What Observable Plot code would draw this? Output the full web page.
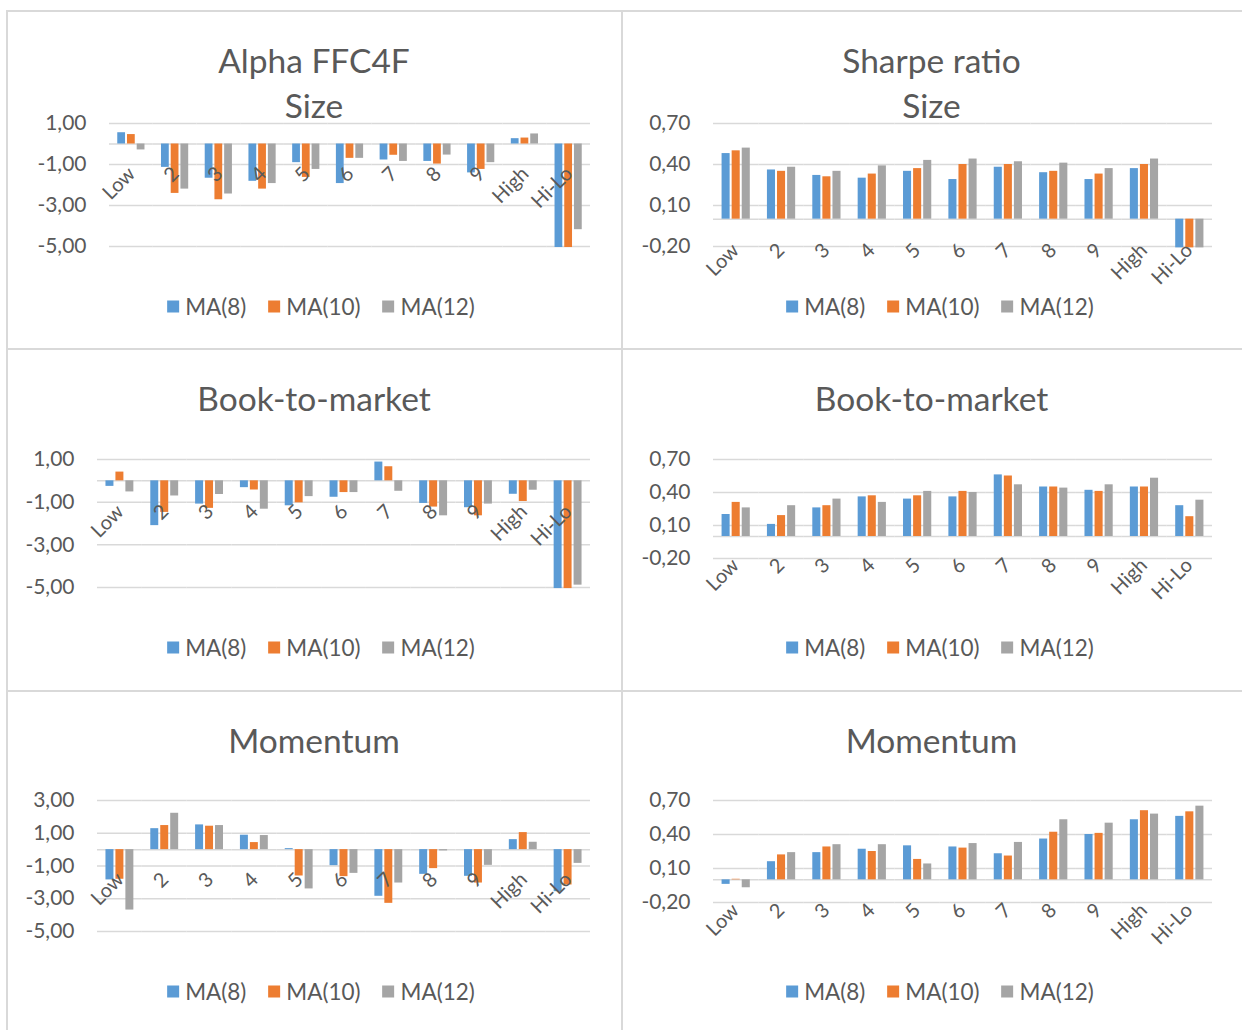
<!DOCTYPE html>
<html><head><meta charset="utf-8">
<script src="https://cdn.jsdelivr.net/npm/d3@7"></script>
<script src="https://cdn.jsdelivr.net/npm/@observablehq/plot@0.6"></script>
<style>
body{margin:0;background:#fff;font-family:Lato,"Open Sans",sans-serif;}
#page{position:relative;width:1242px;height:1030px;overflow:hidden;background:#fff;}
.box{position:absolute;box-sizing:border-box;border-top:2px solid #d9d9d9;border-left:2px solid #d9d9d9;}
.title{position:absolute;transform:translate(-50%,-50%);white-space:nowrap;color:#595959;font-size:33.5px;text-align:center;}
.legend{position:absolute;transform:translate(-50%,-50%);display:flex;align-items:center;color:#595959;font-size:22.5px;white-space:nowrap;}
.legend .item{display:flex;align-items:center;margin:0 11px;}
.legend .sw{width:12px;height:12px;margin-right:6px;}
svg.chart{position:absolute;overflow:visible;}
</style></head>
<body><div id="page"></div>
<script>
const categories = ["Low","2","3","4","5","6","7","8","9","High","Hi-Lo"];
const series = ["MA(8)","MA(10)","MA(12)"];
const colors = ["#5B9BD5","#ED7D31","#A5A5A5"];

const alphaSize8  = [0.55,-1.14,-1.67,-1.82,-0.91,-1.93,-0.78,-0.85,-1.41,0.26,-5.05];
const alphaSize10 = [0.46,-2.41,-2.72,-2.20,-1.63,-0.70,-0.55,-0.98,-1.24,0.29,-5.05];
const alphaSize12 = [-0.29,-2.20,-2.44,-1.93,-1.24,-0.70,-0.85,-0.54,-0.91,0.49,-4.18];

const sharpeSize8  = [0.48,0.36,0.32,0.30,0.35,0.29,0.38,0.34,0.29,0.37,-0.21];
const sharpeSize10 = [0.50,0.35,0.31,0.33,0.37,0.40,0.40,0.35,0.33,0.40,-0.21];
const sharpeSize12 = [0.52,0.38,0.35,0.39,0.43,0.44,0.42,0.41,0.37,0.44,-0.21];

const alphaBM8  = [-0.26,-2.10,-1.09,-0.32,-1.17,-0.77,0.88,-1.06,-1.26,-0.63,-5.05];
const alphaBM10 = [0.41,-1.48,-1.29,-0.43,-1.03,-0.55,0.66,-1.23,-1.64,-0.97,-5.05];
const alphaBM12 = [-0.52,-0.71,-0.64,-1.33,-0.74,-0.55,-0.49,-1.64,-1.09,-0.44,-4.89];

const sharpeBM8  = [0.20,0.11,0.26,0.36,0.34,0.36,0.56,0.45,0.42,0.45,0.28];
const sharpeBM10 = [0.31,0.19,0.28,0.37,0.37,0.41,0.55,0.45,0.41,0.45,0.18];
const sharpeBM12 = [0.26,0.28,0.34,0.31,0.41,0.40,0.47,0.44,0.47,0.53,0.33];

const alphaMom8  = [-1.85,1.28,1.51,0.88,0.06,-0.98,-2.85,-1.51,-1.63,0.61,-2.57];
const alphaMom10 = [-1.81,1.47,1.43,0.43,-1.61,-1.65,-3.28,-1.16,-2.04,1.04,-2.16];
const alphaMom12 = [-3.69,2.22,1.47,0.86,-2.40,-1.45,-2.04,-0.08,-0.96,0.45,-0.84];

const sharpeMom8  = [-0.04,0.16,0.24,0.27,0.30,0.29,0.23,0.36,0.40,0.53,0.56];
const sharpeMom10 = [0.005,0.22,0.29,0.25,0.18,0.28,0.21,0.42,0.41,0.61,0.60];
const sharpeMom12 = [-0.07,0.24,0.31,0.31,0.14,0.32,0.33,0.53,0.50,0.58,0.65];

const alphaTicks1 = [1,-1,-3,-5];
const alphaTicks3 = [3,1,-1,-3,-5];
const sharpeTicks = [0.7,0.4,0.1,-0.2];

const panels = [
  {title:["Alpha FFC4F","Size"], titleY:[60,105], values:[alphaSize8,alphaSize10,alphaSize12], ticks:alphaTicks1, domain:[-5,1],
   box:{x:6,y:10,w:616,h:338}, plot:{l:109,r:590,t:123,b:246}, labels:"zero", ldy:21, legendY:306},
  {title:["Sharpe ratio","Size"], titleY:[60,105], values:[sharpeSize8,sharpeSize10,sharpeSize12], ticks:sharpeTicks, domain:[-0.2,0.7],
   box:{x:621,y:10,w:621,h:338}, plot:{l:713,r:1212,t:123,b:246}, labels:"bottom", ldy:-5, legendY:306},
  {title:["Book-to-market"], titleY:[398], values:[alphaBM8,alphaBM10,alphaBM12], ticks:alphaTicks1, domain:[-5,1],
   box:{x:6,y:348,w:616,h:342}, plot:{l:97,r:590,t:459,b:587}, labels:"zero", ldy:22, legendY:647},
  {title:["Book-to-market"], titleY:[398], values:[sharpeBM8,sharpeBM10,sharpeBM12], ticks:sharpeTicks, domain:[-0.2,0.7],
   box:{x:621,y:348,w:621,h:342}, plot:{l:713,r:1212,t:459,b:558}, labels:"bottom", ldy:-2, legendY:647},
  {title:["Momentum"], titleY:[740], values:[alphaMom8,alphaMom10,alphaMom12], ticks:alphaTicks3, domain:[-5,3],
   box:{x:6,y:690,w:616,h:340}, plot:{l:97,r:590,t:800,b:931}, labels:"zero", ldy:21, legendY:991},
  {title:["Momentum"], titleY:[740], values:[sharpeMom8,sharpeMom10,sharpeMom12], ticks:sharpeTicks, domain:[-0.2,0.7],
   box:{x:621,y:690,w:621,h:340}, plot:{l:713,r:1212,t:800,b:902}, labels:"bottom", ldy:-1, legendY:991}
];

const page = document.getElementById("page");
const fmt = d => d.toFixed(2).replace(".", ",");

for (const p of panels) {
  const box = document.createElement("div");
  box.className = "box";
  Object.assign(box.style, {left:p.box.x+"px", top:p.box.y+"px", width:(p.box.w+2)+"px", height:(p.box.h+2)+"px"});
  page.appendChild(box);

  const data = [];
  categories.forEach((c, i) => series.forEach((s, j) => data.push({cat:c, series:s, value:p.values[j][i]})));

  const labelMark = p.labels === "zero"
    ? Plot.text(categories, {fx:d=>d, y:0, text:d=>d, rotate:-45, textAnchor:"end", lineAnchor:"top", dx:-5, dy:p.ldy, fontSize:20, fill:"#595959"})
    : Plot.text(categories, {fx:d=>d, frameAnchor:"bottom", text:d=>d, rotate:-45, textAnchor:"end", lineAnchor:"top", dx:-6, dy:p.ldy, fontSize:20, fill:"#595959"});

  const chart = Plot.plot({
    width:p.box.w, height:p.box.h,
    marginLeft:p.plot.l - p.box.x, marginRight:p.box.x + p.box.w - p.plot.r,
    marginTop:p.plot.t - p.box.y, marginBottom:p.box.y + p.box.h - p.plot.b,
    fx:{domain:categories, padding:0, round:false, axis:null},
    x:{domain:series, paddingInner:0.2, paddingOuter:0.85, round:false, axis:null},
    y:{domain:p.domain},
    color:{domain:series, range:colors},
    style:{fontFamily:"Lato, 'Open Sans', sans-serif", color:"#595959", background:"transparent", overflow:"visible"},
    marks:[
      Plot.ruleY(p.ticks, {stroke:"#d9d9d9", strokeWidth:1.5}),
      Plot.ruleY([0], {stroke:"#d9d9d9", strokeWidth:1.5}),
      Plot.barY(data, {fx:"cat", x:"series", y:"value", fill:"series"}),
      Plot.axisY({ticks:p.ticks, tickFormat:fmt, tickSize:0, tickPadding:23, fontSize:21, fill:"#595959", label:null}),
      labelMark
    ]
  });
  chart.classList.add("chart");
  chart.style.left = p.box.x + "px";
  chart.style.top = p.box.y + "px";
  page.appendChild(chart);

  const cx = p.box.x + p.box.w / 2;
  p.title.forEach((t, i) => {
    const el = document.createElement("div");
    el.className = "title";
    el.textContent = t;
    el.style.left = cx + "px";
    el.style.top = p.titleY[i] + "px";
    page.appendChild(el);
  });

  const lg = document.createElement("div");
  lg.className = "legend";
  lg.style.left = (p.box.x < 300 ? 321 : 940) + "px";
  lg.style.top = p.legendY + "px";
  series.forEach((s, j) => {
    const it = document.createElement("div");
    it.className = "item";
    const sw = document.createElement("div");
    sw.className = "sw";
    sw.style.background = colors[j];
    const tx = document.createElement("span");
    tx.textContent = s;
    it.appendChild(sw); it.appendChild(tx);
    lg.appendChild(it);
  });
  page.appendChild(lg);
}
</script></body></html>
